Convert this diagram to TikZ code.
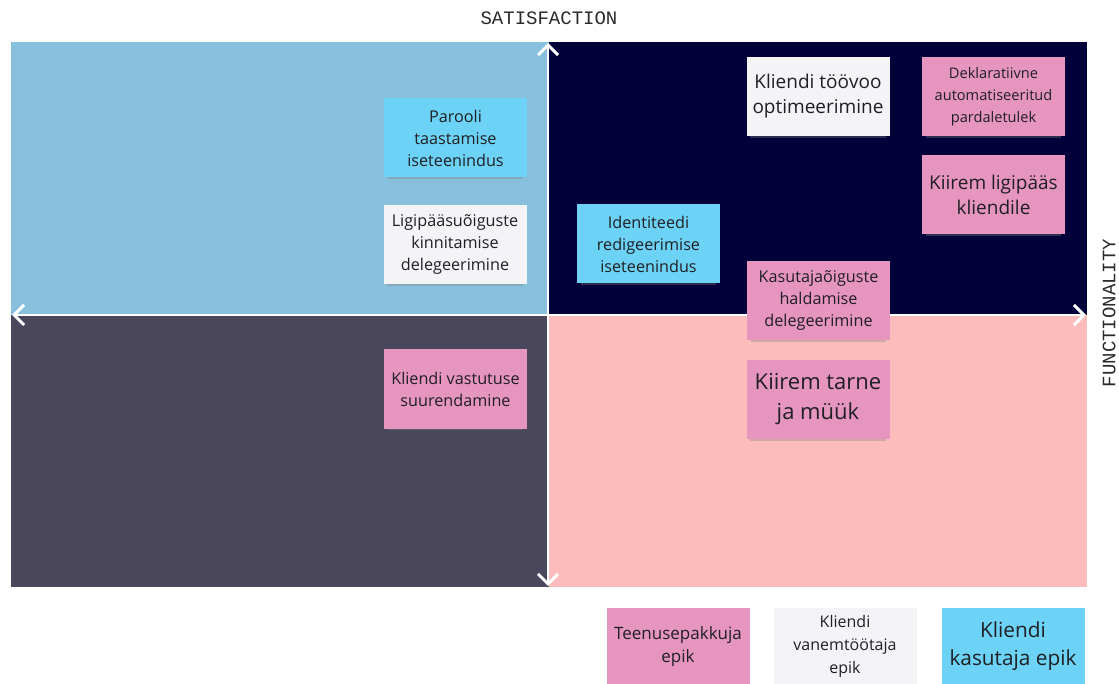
\documentclass[tikz,border=0pt]{standalone}
\usepackage{fontspec}
\setmainfont{Open Sans}
\newfontfamily\labelfont{Liberation Mono}
\usetikzlibrary{arrows.meta,shadows}

\definecolor{qTL}{HTML}{87BFDC}
\definecolor{qTR}{HTML}{03013A}
\definecolor{qBL}{HTML}{4A475C}
\definecolor{qBR}{HTML}{FDBCBC}
\definecolor{notePink}{HTML}{E695BF}
\definecolor{noteCyan}{HTML}{6DD3F6}
\definecolor{noteWhite}{HTML}{F4F4F6}
\definecolor{noteText}{HTML}{1F1F24}
\definecolor{labelText}{HTML}{2A2A2A}

\tikzset{
  note/.style={minimum width=143pt, minimum height=79pt, inner sep=2pt,
    align=center, text=noteText,
    drop shadow={opacity=0.35, shadow xshift=0pt, shadow yshift=-4pt, shadow scale=0.95}},
  pinknote/.style={note, fill=notePink},
  cyannote/.style={note, fill=noteCyan},
  whitenote/.style={note, fill=noteWhite},
  fs/.style={font=\fontsize{16.2}{22}\selectfont},
  fm/.style={font=\fontsize{19}{25}\selectfont},
  fsm/.style={font=\fontsize{14.6}{22}\selectfont},
  fl/.style={font=\fontsize{22}{30}\selectfont},
  axistip/.tip={Straight Barb[length=10pt,width=20pt,line width=3pt]},
  axis/.style={white, line width=2.6pt, arrows={axistip-axistip}},
  axislabel/.style={font=\labelfont\fontsize{19}{22}\selectfont, text=labelText}
}

\begin{document}
\begin{tikzpicture}[x=1pt,y=-1pt]
  \useasboundingbox[fill=white] (0,0) rectangle (1119,684);

  % quadrants
  \fill[qTL] (11,42) rectangle (549,315);
  \fill[qTR] (549,42) rectangle (1087,315);
  \fill[qBL] (11,315) rectangle (549,587);
  \fill[qBR] (549,315) rectangle (1087,587);

  % axes
  \coordinate (xl) at (12,315);
  \coordinate (xr) at (1086,315);
  \coordinate (yt) at (548,43);
  \coordinate (yb) at (548,586);
  \draw[axis] (xl) -- (xr);
  \draw[axis] (yb) -- (yt);

  % axis labels
  \node[axislabel] (sat) at (549,18) {SATISFACTION};
  \node[axislabel, rotate=90] (fun) at (1109,313) {FUNCTIONALITY};

  % notes in the quadrants
  \node[cyannote, fs]  (n1) at (455.5,138) {Parooli\\taastamise\\iseteenindus};
  \node[whitenote, fs] (n2) at (455,244.5) {Ligipääsuõiguste\\kinnitamise\\delegeerimine};
  \node[pinknote, fs]  (n3) at (455.5,389) {Kliendi vastutuse\\suurendamine};
  \node[cyannote, fs]  (n4) at (648.5,244) {Identiteedi\\redigeerimise\\iseteenindus};
  \node[whitenote, fm] (n5) at (818,96.5) {Kliendi töövoo\\optimeerimine};
  \node[pinknote, fsm] (n6) at (993.5,96.5) {Deklaratiivne\\automatiseeritud\\pardaletulek};
  \node[pinknote, fm]  (n7) at (993.5,194.5) {Kiirem ligipääs\\kliendile};
  \node[pinknote, fs]  (n8) at (818.5,301) {Kasutajaõiguste\\haldamise\\delegeerimine};
  \node[pinknote, fl]  (n9) at (818,399.5) {Kiirem tarne\\ja müük};

  % legend
  \node[pinknote, minimum height=77pt, font=\fontsize{17}{23}\selectfont] (l1) at (678,646.5) {Teenusepakkuja\\epik};
  \node[whitenote, minimum height=77pt, font=\fontsize{16}{23}\selectfont] (l2) at (845,646.5) {Kliendi\\vanemtöötaja\\epik};
  \node[cyannote, minimum height=77pt, font=\fontsize{20.8}{28}\selectfont] (l3) at (1013,646.5) {Kliendi\\kasutaja epik};
\end{tikzpicture}
\end{document}
